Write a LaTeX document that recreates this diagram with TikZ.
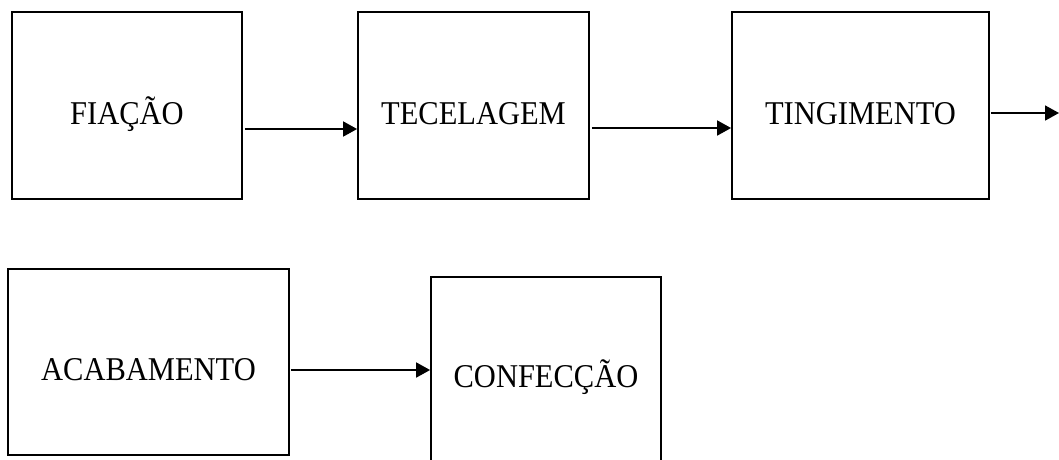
\documentclass[tikz,border=0pt]{standalone}
\usepackage{fontspec}
\usepackage{graphicx}
\setmainfont{Liberation Serif}
\usetikzlibrary{arrows.meta}
\newcommand{\stagetext}[1]{\scalebox{1}[1.09]{#1}}
\begin{document}
\begin{tikzpicture}[x=1pt,y=-1pt,
  stage/.style={draw=black,line width=1.8pt,rectangle,inner sep=0pt,
    text height=37pt,text depth=0pt,
    font=\fontsize{30.5}{36}\selectfont},
  flow/.style={line width=1.8pt,-{Triangle[length=14pt,width=15pt]}}]
\useasboundingbox (0,0) rectangle (1059,459);
\clip (0,0) rectangle (1059,459);
\node[stage,minimum width=230pt,minimum height=187pt] (fia) at (127,105.5) {\stagetext{FIAÇÃO}};
\node[stage,minimum width=231pt,minimum height=187pt] (tec) at (473.5,105.5) {\stagetext{TECELAGEM}};
\node[stage,minimum width=257pt,minimum height=187pt] (ting) at (860.5,105.5) {\stagetext{TINGIMENTO}};
\node[stage,minimum width=281pt,minimum height=186pt] (acab) at (148.5,362) {\stagetext{ACABAMENTO}};
\node[stage,minimum width=230pt,minimum height=202pt,text height=18pt] (conf) at (546,378) {\stagetext{CONFECÇÃO}};
\coordinate (out) at (1059,113);
\draw[flow] ([shift={(2pt,-23.5pt)}]fia.east) -- ([yshift=-23.5pt]tec.west);
\draw[flow] ([shift={(2pt,-22.5pt)}]tec.east) -- ([yshift=-22.5pt]ting.west);
\draw[flow] ([shift={(1pt,-7.5pt)}]ting.east) -- (out);
\draw[flow] ([shift={(1pt,-8pt)}]acab.east) -- ([yshift=8pt]conf.west);
\end{tikzpicture}
\end{document}
